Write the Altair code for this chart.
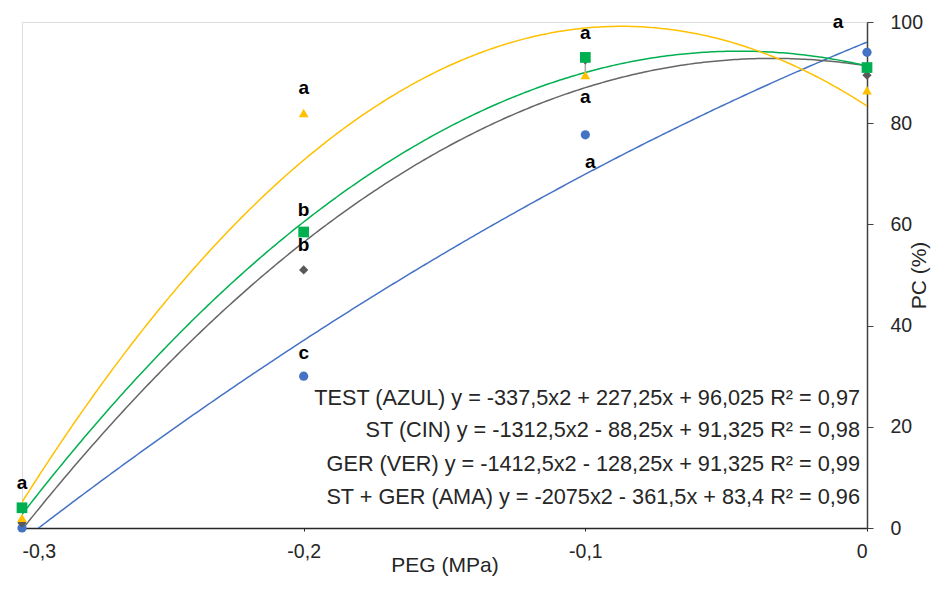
import altair as alt
import pandas as pd

# ---- data ----
series = ["TEST (AZUL)", "ST (CIN)", "GER (VER)", "ST + GER (AMA)"]
peg = [-0.3, -0.2, -0.1, 0.0]
pc_test = [0.0, 30.0, 77.7, 94.0]
pc_st = [1.0, 51.0, 92.5, 89.5]
pc_ger = [4.0, 58.5, 93.0, 91.0]
pc_stger = [2.0, 82.0, 89.5, 86.5]

# trend line coefficients printed on the chart (y = a x^2 + b x + c)
coef_a = [-337.5, -1312.5, -1412.5, -2075.0]
coef_b = [227.25, -88.25, -128.25, -361.5]
coef_c = [96.025, 91.325, 91.325, 83.4]

equations = [
    "TEST (AZUL) y = -337,5x2 + 227,25x + 96,025 R² = 0,97",
    "ST (CIN) y = -1312,5x2 - 88,25x + 91,325 R² = 0,98",
    "GER (VER) y = -1412,5x2 - 128,25x + 91,325 R² = 0,99",
    "ST + GER (AMA) y = -2075x2 - 361,5x + 83,4 R² = 0,96",
]
eq_y = [25.7, 19.4, 12.6, 6.1]

err_x = [-0.1]
err_lo = [89.5]
err_hi = [93.0]

letter_text = ["a", "a", "b", "b", "c", "a", "a", "a", "a"]
letter_x = [-0.3, -0.2, -0.2, -0.2, -0.2, -0.1, -0.1, -0.0982, -0.0103]
letter_y = [8.9, 87.0, 62.8, 55.9, 34.6, 97.8, 85.2, 72.3, 100.0]

colors = ["#4472C4", "#595959", "#00B050", "#FFC000"]
line_colors = ["#4472C4", "#666666", "#00B050", "#FFC000"]
shapes = ["circle", "diamond", "square", "triangle-up"]
sizes = [85, 85, 115, 95]

FONT = "Liberation Sans"

# ---- tables ----
vals = [pc_test, pc_st, pc_ger, pc_stger]
pts = pd.DataFrame(
    [{"series": s, "order": i, "x": x, "y": v, "sz": sizes[i]}
     for i, (s, ys) in enumerate(zip(series, vals)) for x, v in zip(peg, ys)]
)

xscale = alt.Scale(domain=[-0.3, 0.0], nice=False, zero=False)
yscale = alt.Scale(domain=[0, 100], nice=False)

xaxis = alt.Axis(
    title="PEG (MPa)", values=peg, grid=False,
    labelExpr="datum.value == 0 ? '0' : '-0,' + toString(round(-datum.value*10))",
    domainColor="#262626", domainWidth=1.5, tickColor="#262626", tickSize=3,
    labelFont=FONT, labelFontSize=19.5, labelColor="#262626", labelPadding=11,
    titleFont=FONT, titleFontSize=21, titleFontWeight="normal", titleColor="#262626",
    titleY=43, titleBaseline="alphabetic",
)
yaxis = alt.Axis(
    title="PC (%)", orient="right", values=[0, 20, 40, 60, 80, 100], grid=False,
    domainColor="#404040", domainWidth=1.5, tickColor="#404040", tickSize=6,
    labelFont=FONT, labelFontSize=19.5, labelColor="#262626", labelPadding=17,
    titleFont=FONT, titleFontSize=21, titleFontWeight="normal", titleColor="#262626",
    titleAngle=270, titlePadding=7,
)

curves = []
for i in range(4):
    c = (
        alt.Chart(alt.sequence(-0.3, 0.0005, 0.001, as_="x"))
        .transform_calculate(
            y=f"{coef_a[i]}*datum.x*datum.x + {coef_b[i]}*datum.x + {coef_c[i]}"
        )
        .mark_line(color=line_colors[i], strokeWidth=1.5, clip=True)
        .encode(x=alt.X("x:Q", scale=xscale, axis=xaxis),
                y=alt.Y("y:Q", scale=yscale, axis=yaxis))
    )
    curves.append(c)

err = (
    alt.Chart(pd.DataFrame({"x": err_x, "lo": err_lo, "hi": err_hi}))
    .mark_rule(color="#A6A6A6", strokeWidth=1.5)
    .encode(x=alt.X("x:Q", scale=xscale), y=alt.Y("lo:Q", scale=yscale), y2="hi:Q")
)

points = (
    alt.Chart(pts)
    .mark_point(filled=True, opacity=1, strokeWidth=0)
    .encode(
        x=alt.X("x:Q", scale=xscale),
        y=alt.Y("y:Q", scale=yscale),
        color=alt.Color("series:N", scale=alt.Scale(domain=series, range=colors), legend=None),
        shape=alt.Shape("series:N", scale=alt.Scale(domain=series, range=shapes), legend=None),
        size=alt.Size("sz:Q", scale=None, legend=None),
        order="order:Q",
    )
)

letters = (
    alt.Chart(pd.DataFrame({"t": letter_text, "x": letter_x, "y": letter_y}))
    .mark_text(font=FONT, fontSize=19, fontWeight="bold", color="#000000",
               baseline="middle", align="center")
    .encode(x=alt.X("x:Q", scale=xscale), y=alt.Y("y:Q", scale=yscale), text="t:N")
)

eqs = (
    alt.Chart(pd.DataFrame({"t": equations, "y": eq_y}))
    .mark_text(font=FONT, fontSize=21.7, color="#262626", align="right",
               baseline="middle", dx=-7)
    .encode(x=alt.value(845), y=alt.Y("y:Q", scale=yscale), text="t:N")
)

chart = (
    alt.layer(*curves, err, points, letters, eqs)
    .properties(
        width=845, height=506,
        autosize=alt.AutoSizeParams(type="none"),
        padding={"left": 14, "top": 14, "right": 72, "bottom": 50},
    )
    .configure_view(stroke=None)
    .configure(background="white")
)

chart.save("out.html", embed_options={"renderer": "svg", "actions": False})
